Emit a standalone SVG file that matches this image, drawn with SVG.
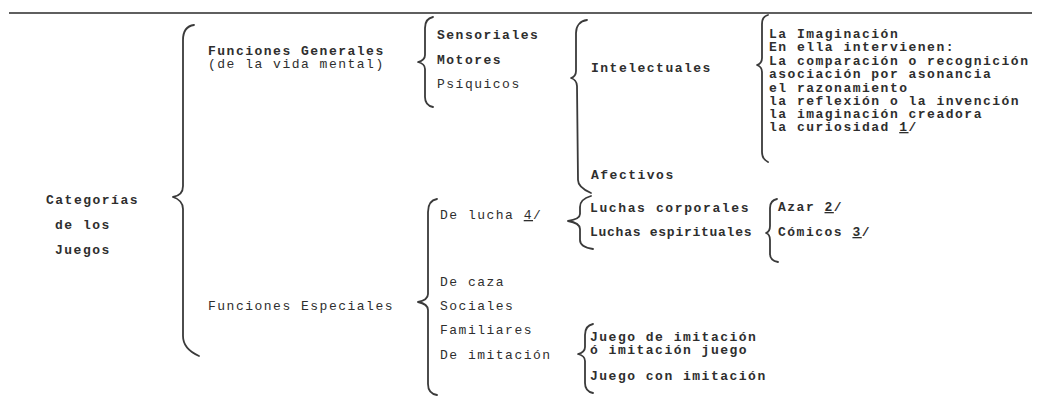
<svg xmlns="http://www.w3.org/2000/svg" width="1039" height="408" viewBox="0 0 1039 408">
<style>
text{font-family:"Liberation Mono","Courier New",monospace;font-size:13px;letter-spacing:1.5px;fill:#2e2e2e}
.b{font-weight:bold}
.br{fill:none;stroke:#3a3a3a;stroke-width:1.8;stroke-linecap:round;stroke-linejoin:round}
.u{text-decoration:underline}
</style>
<rect width="1039" height="408" fill="#ffffff"/>
<line x1="9" y1="13" x2="1032" y2="13" stroke="#2a2a2a" stroke-width="1.6"/>
<g id="connectors">
<path class="br" d="M194,25 C187,26 183,31 183,40 L183,186 C183,193 179,196 173,197 C179,199 183,202 183,209 L183,336 C183,346 190,352 199,356"/>
<path class="br" d="M433,17 C428,18 425,22 425,28 L425,55 C425,59 422,61 418,62 C422,63 425,65 425,69 L425,97 C425,103 428,106 433,107"/>
<path class="br" d="M587,20 C580,21 576,26 576,33 L576,71 C576,75 574,77 571,78 C574,79 577,82 577,86 L578,180 C578,186 584,190 591,193"/>
<path class="br" d="M591,196 C584,198 580,201 580,207 L580,214 C580,218 574,220 568,221 C574,222 580,224 580,229 L580,240 C580,245 586,248 593,249"/>
<path class="br" d="M768,15 C764,16 762,19 762,24 L762,58 C762,62 760,64 757,65 C760,66 762,68 762,72 L762,152 C762,157 764,160 768,162"/>
<path class="br" d="M777,199 C772,200 770,203 770,208 L770,226 C770,230 769,232 766,233 C769,234 770,236 770,240 L770,254 C770,259 773,261 778,262"/>
<path class="br" d="M593,324 C588,325 585,329 585,335 L585,347 C585,351 582,353 578,354 C582,355 585,357 585,361 L585,383 C585,389 588,392 593,393"/>
<path class="br" d="M437,199 C431,200 428,205 428,212 L428,294 C428,299 423,301 418,302 C423,303 428,305 428,310 L428,384 C428,390 431,394 437,395"/>
</g>
<g id="root">
<text class="b" x="46" y="204">Categorías</text>
<text class="b" x="55" y="229">de los</text>
<text class="b" x="55" y="254">Juegos</text>
</g>
<g id="generales">
<text class="b" x="208" y="55">Funciones Generales</text>
<text x="208" y="68">(de la vida mental)</text>
</g>
<g id="sensoriales"><text class="b" x="437" y="39">Sensoriales</text></g>
<g id="motores"><text class="b" x="437" y="64">Motores</text></g>
<g id="psiquicos"><text x="437" y="88">Psíquicos</text></g>
<g id="intelectuales"><text class="b" x="591" y="72">Intelectuales</text></g>
<g id="imaginacion">
<text class="b" x="769" y="38">La Imaginación</text>
<text class="b" x="769" y="51">En ella intervienen:</text>
<text class="b" x="769" y="65">La comparación o recognición</text>
<text class="b" x="769" y="78">asociación por asonancia</text>
<text class="b" x="769" y="92">el razonamiento</text>
<text class="b" x="769" y="105">la reflexión o la invención</text>
<text class="b" x="769" y="118">la imaginación creadora</text>
<text class="b" x="769" y="131">la curiosidad <tspan class="u">1</tspan>/</text>
</g>
<g id="afectivos"><text class="b" x="591" y="179">Afectivos</text></g>
<g id="luchas-corporales"><text class="b" x="590" y="212" textLength="160" lengthAdjust="spacing">Luchas corporales</text></g>
<g id="luchas-espirituales"><text class="b" x="590" y="236" textLength="163" lengthAdjust="spacing">Luchas espirituales</text></g>
<g id="azar"><text class="b" x="778" y="211">Azar <tspan class="u">2</tspan>/</text></g>
<g id="comicos"><text class="b" x="778" y="236">Cómicos <tspan class="u">3</tspan>/</text></g>
<g id="especiales"><text x="208" y="310">Funciones Especiales</text></g>
<g id="de-lucha"><text x="440" y="219">De lucha <tspan class="u">4</tspan>/</text></g>
<g id="de-caza"><text x="440" y="286">De caza</text></g>
<g id="sociales"><text x="440" y="310">Sociales</text></g>
<g id="familiares"><text x="440" y="334">Familiares</text></g>
<g id="de-imitacion"><text x="440" y="359">De imitación</text></g>
<g id="juego-de-imitacion">
<text class="b" x="590" y="341">Juego de imitación</text>
<text class="b" x="590" y="354">ó imitación juego</text>
</g>
<g id="juego-con-imitacion"><text class="b" x="590" y="380">Juego con imitación</text></g>
</svg>
